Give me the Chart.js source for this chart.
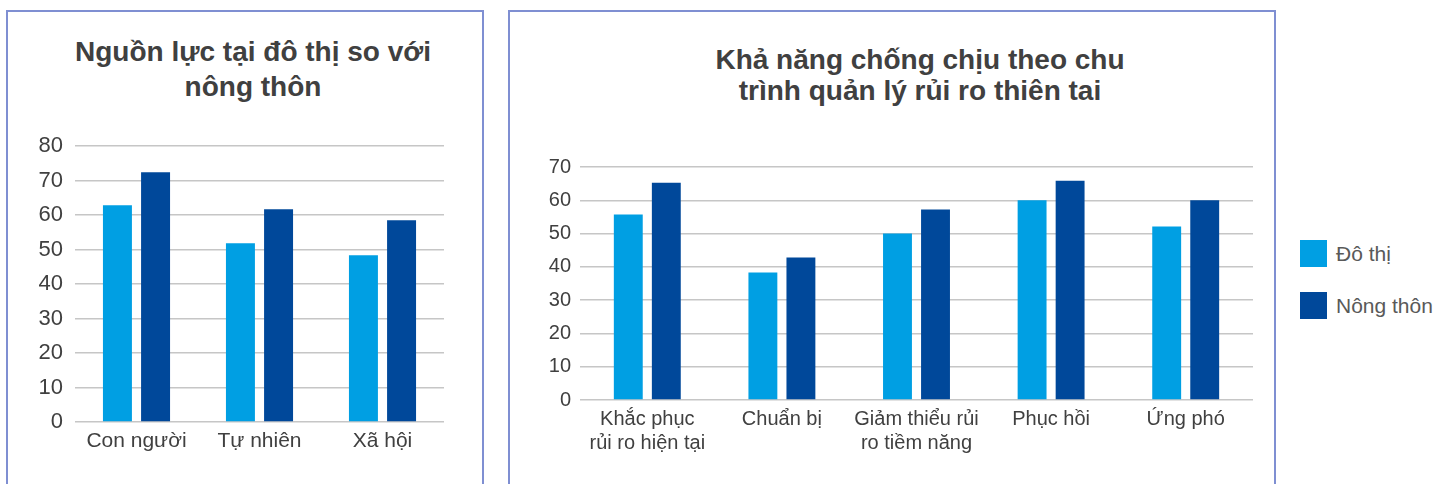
<!DOCTYPE html>
<html>
<head>
<meta charset="utf-8">
<script src="https://cdn.jsdelivr.net/npm/chart.js@4"></script>
<style>
  body { margin: 0; background: #fff; width: 1448px; height: 484px; overflow: hidden; position: relative; font-family: "Liberation Sans", Arial, sans-serif; }
  .panel { position: absolute; border: 2px solid #7f8fd2; box-sizing: border-box; }
  .box { position: absolute; }
  .title { position: absolute; text-align: center; font-weight: bold; font-size: 28px; color: #404040; }
  #legend { position: absolute; left: 1300px; top: 240px; }
  .item { display: flex; align-items: center; height: 27px; margin-bottom: 25px; font-size: 21px; color: #595959; }
  .swatch { width: 27px; height: 27px; margin-right: 9px; }
</style>
</head>
<body>
<div class="panel" style="left:6px; top:10px; width:478px; height:520px;"></div>
<div class="panel" style="left:508px; top:10px; width:768px; height:520px;"></div>
<div id="leftTitle" class="title" style="left:3px; top:34px; width:500px; line-height:35px;"></div>
<div id="rightTitle" class="title" style="left:570px; top:44px; width:700px; line-height:31px;"></div>
<div class="box" style="left:20px; top:0; width:466px; height:484px;"><canvas id="left"></canvas></div>
<div class="box" style="left:520px; top:0; width:740px; height:484px;"><canvas id="right"></canvas></div>
<div id="legend"></div>
<script>
// series
const SERIES = ['Đô thị', 'Nông thôn'];
const COLORS = ['#009fe3', '#00489a'];

// left chart
const leftTitle = ['Nguồn lực tại đô thị so với', 'nông thôn'];
const leftCats = ['Con người', 'Tự nhiên', 'Xã hội'];
const leftUrban = [62.8, 51.8, 48.3];
const leftRural = [72.4, 61.7, 58.5];
const leftTicks = [0, 10, 20, 30, 40, 50, 60, 70, 80];

// right chart
const rightTitle = ['Khả năng chống chịu theo chu', 'trình quản lý rủi ro thiên tai'];
const rightCats = [['Khắc phục', 'rủi ro hiện tại'], 'Chuẩn bị', ['Giảm thiểu rủi', 'ro tiềm năng'], 'Phục hồi', 'Ứng phó'];
const rightUrban = [55.7, 38.3, 50, 60, 52.1];
const rightRural = [65.3, 42.8, 57.2, 65.9, 60];
const rightTicks = [0, 10, 20, 30, 40, 50, 60, 70];

const SANS = '"Liberation Sans", Arial, sans-serif';
const TEXT = '#404040';
const GRID = '#c6c6c6';

function makeChart(id, o) {
  const ctx = document.getElementById(id).getContext('2d');
  return new Chart(ctx, {
    type: 'bar',
    data: {
      labels: o.labels,
      datasets: [o.urban, o.rural].map((d, i) => ({
        label: SERIES[i],
        data: d,
        backgroundColor: COLORS[i],
        borderWidth: 0,
        barPercentage: o.barPct,
        categoryPercentage: o.catPct,
      })),
    },
    options: {
      responsive: true,
      maintainAspectRatio: false,
      animation: false,
      layout: { padding: { left: 0, right: o.padRight, top: o.padTop, bottom: 0 } },
      plugins: {
        legend: { display: false },
        tooltip: { enabled: false },
      },
      scales: {
        x: {
          grid: { display: false, drawTicks: false },
          border: { display: false },
          ticks: { color: TEXT, padding: 7, maxRotation: 0, autoSkip: false, font: { family: SANS, size: o.xFont, lineHeight: 1.2 } },
          afterFit: s => { s.height = o.xHeight; },
        },
        y: {
          min: 0,
          max: o.ticks[o.ticks.length - 1],
          afterBuildTicks: s => { s.ticks = o.ticks.map(v => ({ value: v })); },
          grid: { color: GRID, lineWidth: 1.5, drawTicks: false },
          border: { display: false },
          ticks: { color: TEXT, padding: o.yPad, font: { family: SANS, size: o.yFont } },
          afterFit: s => { s.width = o.yWidth; },
        },
      },
    },
  });
}

makeChart('left', {
  labels: leftCats, urban: leftUrban, rural: leftRural, ticks: leftTicks,
  barPct: 0.76, catPct: 0.62, padRight: 42, padTop: 146, yWidth: 55, xHeight: 62,
  xFont: 21, yFont: 22, yPad: 12,
});

makeChart('right', {
  labels: rightCats, urban: rightUrban, rural: rightRural, ticks: rightTicks,
  barPct: 0.76, catPct: 0.565, padRight: 7, padTop: 167, yWidth: 60, xHeight: 84,
  xFont: 20, yFont: 20, yPad: 9,
});

// titles
[['leftTitle', leftTitle], ['rightTitle', rightTitle]].forEach(([id, lines]) => {
  document.getElementById(id).innerHTML = lines.join('<br>');
});

// legend
const legend = document.getElementById('legend');
SERIES.forEach((name, i) => {
  const row = document.createElement('div');
  row.className = 'item';
  const sw = document.createElement('div');
  sw.className = 'swatch';
  sw.style.background = COLORS[i];
  const label = document.createElement('span');
  label.textContent = name;
  row.appendChild(sw);
  row.appendChild(label);
  legend.appendChild(row);
});
</script>
</body>
</html>
